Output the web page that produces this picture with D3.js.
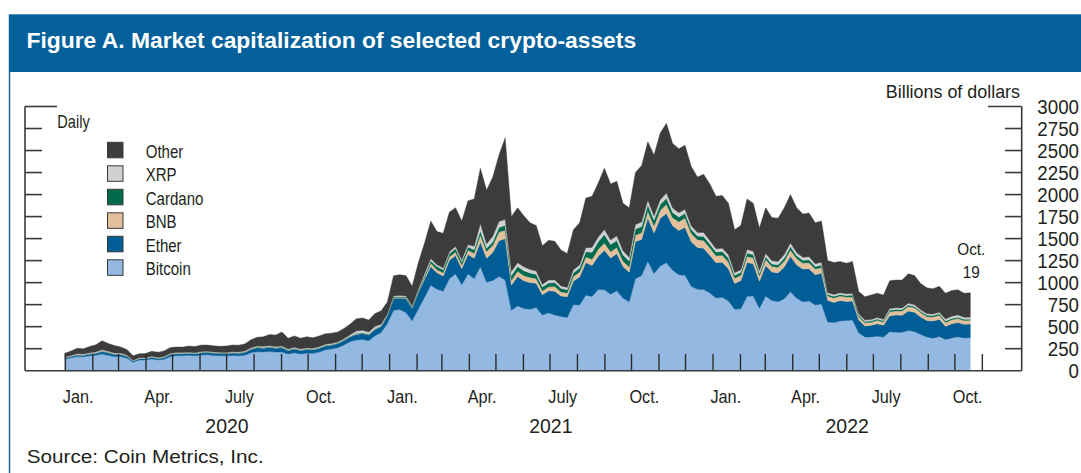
<!DOCTYPE html>
<html>
<head>
<meta charset="utf-8">
<script src="https://cdn.jsdelivr.net/npm/d3@7"></script>
<style>
  html, body { margin: 0; padding: 0; background: #ffffff; }
  svg { display: block; font-family: "Liberation Sans", Arial, sans-serif; }
</style>
</head>
<body>
<svg id="chart" width="1081" height="473"></svg>
<script>
// Weekly observations, Wednesday Jan. 1, 2020 through Wednesday Oct. 19, 2022 (billions of dollars)
const firstDay = Date.UTC(2020, 0, 1);
const weekCount = 147;

const bitcoin = [
  131,146,160,157,171,175,189,175,160,160,
  144,97,122,122,134,122,130,161,169,171,
  175,169,177,180,174,171,169,173,170,175,
  205,216,213,218,212,211,190,203,190,199,
  197,211,237,247,262,291,331,348,353,340,
  396,433,537,
  685,695,661,566,701,835,971,926,903,1043,
  1099,976,1098,1046,1179,1005,1024,1070,1030,687,
  736,705,699,718,632,657,633,616,603,750,
  747,858,843,921,919,869,907,822,783,1045,
  1081,1244,1103,1188,1227,1142,1090,1083,958,926,
  921,881,
  825,833,792,699,703,844,848,710,845,798,
  783,817,897,823,783,791,747,757,553,547,
  565,569,576,431,382,384,392,382,443,437,
  436,457,446,411,383,369,387,354,372,385,
  372,375
];

const ether = [
  14,15,18,18,19,22,29,28,25,25,
  21,13,15,15,19,17,20,24,23,22,
  23,23,27,27,26,26,26,28,27,31,
  36,45,43,46,44,50,39,44,39,41,
  39,43,44,44,46,53,54,64,68,65,
  72,69,85,
  137,129,158,143,190,200,212,187,172,210,
  209,183,221,230,283,272,318,405,470,284,
  334,315,302,274,231,251,270,232,236,269,
  318,370,352,378,449,410,423,361,334,421,
  410,490,462,542,557,505,503,546,507,474,
  470,429,
  402,398,367,292,320,384,367,307,350,324,
  327,360,402,378,371,368,343,351,247,227,
  231,217,215,147,125,131,142,133,182,196,
  194,221,219,199,186,195,196,150,161,162,
  155,154
];

const bnb = [
  2.1,2.3,2.6,2.7,2.8,3.1,3.5,3.2,3.0,3.1,
  2.8,1.7,2.0,2.0,2.2,2.3,2.4,2.6,2.6,2.4,
  2.5,2.5,2.6,2.5,2.5,2.4,2.4,2.6,2.7,2.8,
  3.0,3.1,3.2,3.4,3.4,3.7,3.8,4.2,4.0,4.1,
  4.3,4.3,4.3,4.3,4.0,4.2,4.1,4.4,4.5,4.3,
  4.4,4.5,5.5,
  6.1,6.5,6.5,6.5,8,19,37,34,36,40,
  39,42,49,58,80,76,82,100,95,55,
  58,60,57,55,45,45,52,47,44,52,
  56,64,70,80,83,73,70,60,62,73,
  77,80,80,92,105,90,98,105,95,88,
  88,85,
  78,80,75,60,60,70,68,58,68,62,
  64,68,72,72,68,68,65,64,48,52,
  52,50,47,36,37,35,38,39,45,46,
  48,52,50,50,45,47,47,44,46,47,
  44,44
];

const cardano = [
  0.9,1.1,1.3,1.4,1.5,1.7,2.1,1.9,1.6,1.5,
  1.2,0.8,0.9,0.9,0.9,0.9,1.0,1.3,1.3,1.3,
  1.5,1.8,2.1,2.3,2.2,2.1,2.5,3.3,3.8,4.0,
  4.3,4.2,4.1,3.9,3.9,3.8,3.0,3.1,2.9,3.2,
  3.1,3.2,3.4,3.0,3.0,3.3,3.3,5.0,5.0,4.8,
  4.6,4.7,5.5,
  10,9.5,11,11,13,22,29,36,35,36,
  41,35,38,38,46,37,40,50,57,55,
  54,55,52,47,43,44,46,40,37,41,
  46,58,80,85,95,82,78,72,66,70,
  69,69,66,66,70,60,53,53,45,42,
  45,43,
  42,42,47,33,34,38,35,29,31,27,
  28,35,39,33,31,32,28,28,18,18,
  17,18,21,16,16,15,15,14,17,17,
  17,17,14.5,15,15,16,16,15,15,14,
  12.5,12
];

const xrp = [
  8.4,9.2,10.5,9.8,10.5,11.8,14,11.8,10.3,10.3,
  8.8,6.6,7.5,7.5,8.3,8,8.3,9.4,9.4,8.6,
  8.8,8.7,9,8.8,8.3,8,7.8,8.4,8.8,9.8,
  11.2,13.4,13.2,12.8,12.1,12.6,10.8,11,10.6,11,
  11.3,11.3,11.3,10.8,10.9,11.8,15.4,28.1,28.2,25.9,
  25.9,16.8,10,
  11.4,13.6,12.7,11.8,16.8,25.9,24.2,20,20,21,
  21.5,24.2,25.6,41,82,50,64,69,68,46,
  44,46,40,38,29,32,30,27,25.5,33,
  34,46,55,53,56,51,53,46,43,50,
  52,52,47,53,59,50,49,46,41,38,
  46,40,
  37,38,35,28.5,28.5,41,38,32,37,38.5,
  38.5,40,40,35,34,35,31,31,20,20,
  19.5,19.5,19,15.5,15.5,15.5,16,15.5,18,18,
  18,18.5,18,16.5,16.5,17,18,23,24,25,
  24,23
];

const other = [
  41,51,63,61,70,81,102,90,85,70,
  62,51,45,48,56,60,63,64,65,63,
  69,70,74,71,69,68,72,77,78,82,
  91,98,108,126,130,159,123,130,123,127,
  120,122,120,116,114,117,122,140,141,135,
  147,152,137,
  230,236,231,222,301,348,427,377,394,450,
  441,440,498,537,630,610,672,756,925,623,
  624,579,530,518,440,451,439,408,385,455,
  479,564,580,613,698,635,619,539,562,591,
  641,665,692,759,792,733,727,727,674,632,
  660,642,
  596,599,584,488,505,573,544,484,519,491,
  490,530,550,509,493,496,466,469,364,366,
  356,347,362,255,265,280,277,277,315,316,
  317,335,333,299,295,286,296,294,292,287,
  273,277
];

const seriesKeys   = ["bitcoin", "ether", "bnb", "cardano", "xrp", "other"];
const seriesNames  = ["Bitcoin", "Ether", "BNB", "Cardano", "XRP", "Other"];
const seriesColors = ["#93b9e2", "#005d95", "#e2c09c", "#006a4d", "#d0d1d3", "#3c3c3c"];
const seriesValues = { bitcoin, ether, bnb, cardano, xrp, other };

const yTickValues  = [0, 250, 500, 750, 1000, 1250, 1500, 1750, 2000, 2250, 2500, 2750, 3000];
const quarterNames = ["Jan.", "Apr.", "July", "Oct."];
const yearNames    = ["2020", "2021", "2022"];

// ---------------------------------------------------------------------------
const svg = d3.select("#chart");
const ink = "#231f20";
const frameInk = "#3a3a3a";

// Title banner and panel border
svg.append("line")
  .attr("x1", 9.5).attr("x2", 9.5).attr("y1", 14).attr("y2", 473)
  .attr("stroke", "#1f6ba0").attr("stroke-width", 1.5);
svg.append("rect")
  .attr("x", 9).attr("y", 14).attr("width", 1072).attr("height", 58)
  .attr("fill", "#03609a");
svg.append("line")
  .attr("x1", 9).attr("x2", 1081).attr("y1", 14.5).attr("y2", 14.5)
  .attr("stroke", "#5a8fbb").attr("stroke-width", 1);

function label(g, txt, x, yb, size, sx, anchor, weight, fill) {
  return g.append("text")
    .attr("transform", `translate(${x},${yb}) scale(${sx},1)`)
    .attr("text-anchor", anchor || "start")
    .attr("font-size", size)
    .attr("font-weight", weight || "normal")
    .attr("fill", fill || ink)
    .text(txt);
}

label(svg, "Figure A. Market capitalization of selected crypto-assets", 26.5, 48, 21.5, 1.063, "start", "bold", "#ffffff");

// Scales
const x = d3.scaleUtc()
  .domain([new Date(Date.UTC(2019, 10, 17)), new Date(Date.UTC(2022, 11, 16))])
  .range([25, 1021.7]);
const y = d3.scaleLinear().domain([0, 3000]).range([370.7, 106.5]);

// Rows for the stack
const rows = d3.range(weekCount).map(i => {
  const r = { date: d3.utcDay.offset(new Date(firstDay), 7 * i) };
  seriesKeys.forEach(k => { r[k] = seriesValues[k][i]; });
  return r;
});

const stacked = d3.stack().keys(seriesKeys)(rows);
const area = d3.area()
  .x(d => x(d.data.date))
  .y0(d => y(d[0]))
  .y1(d => y(d[1]))
  .curve(d3.curveLinear);

svg.append("g").selectAll("path")
  .data(stacked)
  .join("path")
  .attr("d", area)
  .attr("fill", (d, i) => seriesColors[i])
  .attr("stroke", (d, i) => seriesColors[i])
  .attr("stroke-width", 0.4);

// Monthly tick marks along the bottom, drawn over the areas
const monthStarts = d3.utcMonth.range(new Date(Date.UTC(2020, 0, 1)), new Date(Date.UTC(2022, 10, 2)));
const xAxis = d3.axisBottom(x).tickValues(monthStarts).tickSize(-16.7).tickFormat("");
const xg = svg.append("g").attr("transform", "translate(0,370.7)").call(xAxis);
xg.select(".domain").remove();
xg.selectAll(".tick line").attr("stroke", "#2b2b2b").attr("stroke-width", 1.4);

// Frame: left, right and bottom lines
const frame = svg.append("g").attr("stroke", frameInk).attr("stroke-width", 1.6).attr("fill", "none");
frame.append("line").attr("x1", 25).attr("x2", 25).attr("y1", y(3000)).attr("y2", y(0));
frame.append("line").attr("x1", 1021.7).attr("x2", 1021.7).attr("y1", y(3000)).attr("y2", y(0));
frame.append("line").attr("x1", 25).attr("x2", 1021.7).attr("y1", y(0)).attr("y2", y(0));

// Value ticks on both sides (top one longer)
yTickValues.filter(v => v > 0).forEach(v => {
  const top = v === yTickValues[yTickValues.length - 1];
  frame.append("line").attr("x1", 25).attr("x2", top ? 57 : 42).attr("y1", y(v)).attr("y2", y(v));
  frame.append("line").attr("x1", top ? 988 : 1005).attr("x2", 1021.7).attr("y1", y(v)).attr("y2", y(v));
});

// Right-hand value labels
const yAxis = d3.axisRight(y).tickValues(yTickValues).tickSize(0).tickPadding(0).tickFormat(d3.format("d"));
const yg = svg.append("g").attr("transform", "translate(1079,0)").call(yAxis);
yg.select(".domain").remove();
yg.selectAll(".tick text")
  .attr("text-anchor", "end")
  .attr("x", 0)
  .attr("dy", null)
  .attr("y", 7)
  .attr("transform", "scale(0.96,1)")
  .attr("font-size", 19.5)
  .attr("font-family", "Liberation Sans, Arial, sans-serif")
  .attr("fill", ink);

// Quarter labels centred in their month, year labels centred on their span
const quarterStarts = d3.utcMonth.every(3).range(new Date(Date.UTC(2020, 0, 1)), new Date(Date.UTC(2022, 10, 1)));
quarterStarts.forEach(m => {
  const mid = d3.utcDay.offset(m, 15);
  label(svg, quarterNames[Math.floor(m.getUTCMonth() / 3)], x(mid), 403.3, 18.5, 0.88, "middle");
});
yearNames.forEach(yr => {
  const a = new Date(Date.UTC(+yr, 0, 1));
  const b = d3.min([new Date(Date.UTC(+yr + 1, 0, 1)), monthStarts[monthStarts.length - 1]]);
  label(svg, yr, (x(a) + x(b)) / 2, 432.7, 20.5, 0.95, "middle");
});

// Axis captions and notes
label(svg, "Billions of dollars", 1020, 97.5, 17.9, 1, "end");
label(svg, "Daily", 57.3, 128.3, 17.6, 0.83, "start");
const lastDate = rows[rows.length - 1].date;
label(svg, "Oct.", x(lastDate) + 1, 255, 17, 0.9, "middle");
label(svg, "19", x(lastDate) + 1, 278.3, 17, 0.9, "middle");

// Legend, top entry first
const legend = svg.append("g");
const legendOrder = d3.range(seriesKeys.length).reverse();
legendOrder.forEach((si, i) => {
  const top = 142.3 + i * 23.5;
  legend.append("rect")
    .attr("x", 107.5).attr("y", top).attr("width", 15.5).attr("height", 15.5)
    .attr("fill", seriesColors[si]).attr("stroke", "#3a3a3a").attr("stroke-width", 1);
  label(legend, seriesNames[si], 145.7, top + 15.3, 17.7, 0.85, "start");
});

// Source line
label(svg, "Source: Coin Metrics, Inc.", 26.7, 462.5, 19, 1.09, "start");
</script>
</body>
</html>
